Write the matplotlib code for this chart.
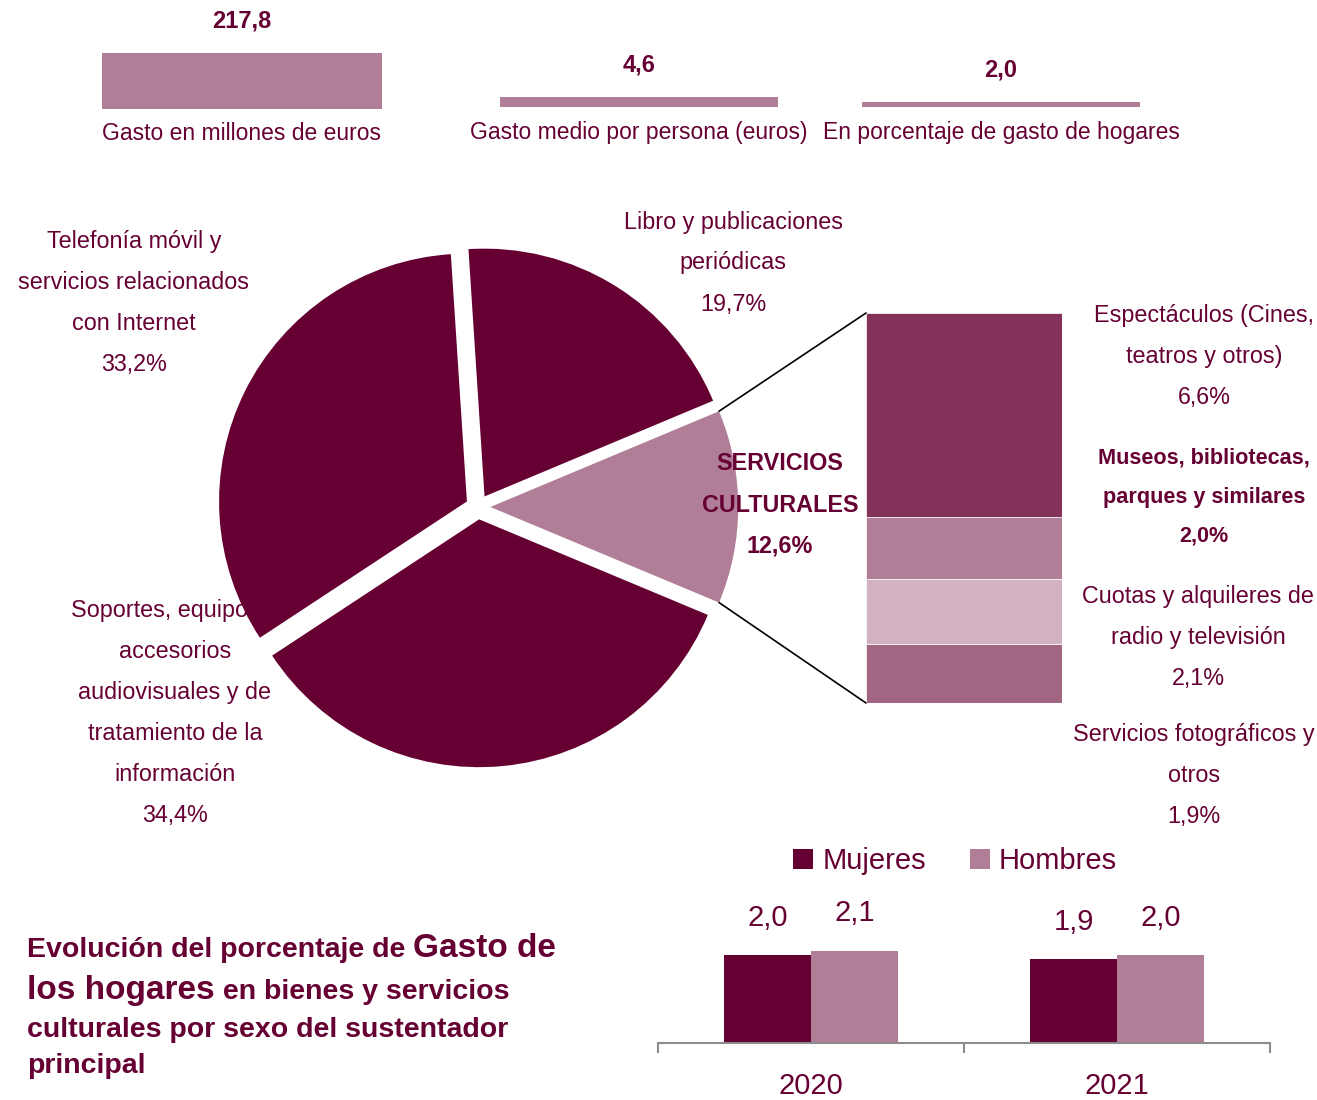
import matplotlib.pyplot as plt
from matplotlib.patches import ConnectionPatch
import numpy as np

plt.rcParams['font.family'] = ['Liberation Sans', 'DejaVu Sans']

W, H = 1317, 1100
dark = '#660033'
mauve = '#b07f97'

# indicadores de cabecera
ind_values = [217.8, 4.6, 2.0]
ind_labels = ['217,8', '4,6', '2,0']
ind_names = ['Gasto en millones de euros', 'Gasto medio por persona (euros)',
             'En porcentaje de gasto de hogares']

# reparto del gasto (tarta)
pie_names = ['SERVICIOS\nCULTURALES', 'Libro y publicaciones\nperiódicas',
             'Telefonía móvil y\nservicios relacionados\ncon Internet',
             'Soportes, equipos y\naccesorios\naudiovisuales y de\ntratamiento de la\ninformación']
pie_values = [12.6, 19.7, 33.2, 34.4]

# desglose de servicios culturales (de abajo arriba)
sub_names = ['Servicios fotográficos y\notros', 'Cuotas y alquileres de\nradio y televisión',
             'Museos, bibliotecas,\nparques y similares', 'Espectáculos (Cines,\nteatros y otros)']
sub_values = [1.9, 2.1, 2.0, 6.6]
sub_colors = ['#a26682', '#d2b1c0', mauve, '#85325a']

# evolución por sexo
years = ['2020', '2021']
mujeres = [2.0, 1.9]
hombres = [2.1, 2.0]


def px(l, t, w, h):
    return [l / W, 1 - (t + h) / H, w / W, h / H]


def fmt(v, pct=True):
    s = f'{v:.1f}'.replace('.', ',')
    return s + '%' if pct else s


def ftext(x, y, s, **kw):
    return fig.text(x / W, 1 - y / H, s, color=dark, **kw)


fig = plt.figure(figsize=(W / 100, H / 100), dpi=100)

# --- cabecera: tres barras con escala propia
ind_axes = [(102, 38, 280, 71), (500, 36, 278, 71), (862, 36, 278, 71)]
ind_tops = [276, 32, 28]
for i, v in enumerate(ind_values):
    ax = fig.add_axes(px(*ind_axes[i]))
    ax.bar(0, v, width=1, color=mauve)
    ax.set_xlim(-0.5, 0.5)
    ax.set_ylim(0, ind_tops[i])
    ax.axis('off')
    ax.annotate(ind_labels[i], (0, v), xytext=(0, 23), textcoords='offset points',
                ha='center', va='center', fontsize=17, fontweight='bold', color=dark)
    l, t, w, h = ind_axes[i]
    ftext(l + w / 2, t + h + 25, ind_names[i], ha='center', va='center', fontsize=16.5)

# --- tarta
ax_pie = fig.add_axes(px(193, 222, 570, 570))
wedges, _ = ax_pie.pie(pie_values, colors=[mauve, dark, dark, dark],
                       explode=[0.05] * 4, startangle=-pie_values[0] / 100 * 180,
                       counterclock=True)
ax_pie.set_xlim(-1.15, 1.15)
ax_pie.set_ylim(-1.15, 1.15)

pie_pos = [(780, 505), (733, 263), (134, 303), (175, 713)]
for i, (name, v) in enumerate(zip(pie_names, pie_values)):
    bold = 'bold' if i == 0 else 'normal'
    z = -1 if i == 3 else 3
    ftext(pie_pos[i][0], pie_pos[i][1], name + '\n' + fmt(v), ha='center', va='center',
          fontsize=16.8, fontweight=bold, linespacing=2.0, zorder=z)

# --- barra apilada del desglose
ax_st = fig.add_axes(px(866, 313, 196, 390))
bottom = 0
for v, c in zip(sub_values, sub_colors):
    ax_st.bar(0, v, bottom=bottom, width=1, color=c, edgecolor='white', linewidth=0.5)
    bottom += v
ax_st.set_xlim(-0.5, 0.5)
ax_st.set_ylim(0, sum(sub_values))
ax_st.axis('off')

sub_pos = [(1194, 775), (1198, 637.5), (1204, 497), (1204, 356.5)]
for i, (name, v) in enumerate(zip(sub_names, sub_values)):
    bold = 'bold' if i == 2 else 'normal'
    size = 15.6 if i == 2 else 16.8
    ftext(sub_pos[i][0], sub_pos[i][1], name + '\n' + fmt(v), ha='center', va='center',
          fontsize=size, fontweight=bold, linespacing=2.0 * 16.8 / size)

w0 = wedges[0]
cx, cy = w0.center
for theta, yb in [(w0.theta2, 1), (w0.theta1, 0)]:
    p = (cx + w0.r * np.cos(np.radians(theta)), cy + w0.r * np.sin(np.radians(theta)))
    con = ConnectionPatch(xyA=p, coordsA=ax_pie.transData, xyB=(0, yb),
                          coordsB=ax_st.transAxes, color='black', lw=1.2)
    fig.add_artist(con)

# --- barras por sexo
ax_b = fig.add_axes(px(658, 900, 612, 143))
x = np.arange(len(years))
bw = 0.284
b1 = ax_b.bar(x - bw / 2, mujeres, bw, color=dark, label='Mujeres')
b2 = ax_b.bar(x + bw / 2, hombres, bw, color=mauve, label='Hombres')
for bars, vals in [(b1, mujeres), (b2, hombres)]:
    for b, v in zip(bars, vals):
        ax_b.annotate(fmt(v, False), (b.get_x() + b.get_width() / 2, v), xytext=(0, 27),
                      textcoords='offset points', ha='center', va='center',
                      fontsize=21, color=dark)
ax_b.set_xlim(-0.5, 1.5)
ax_b.set_ylim(0, 3.25)
for s in ['top', 'right', 'left']:
    ax_b.spines[s].set_visible(False)
ax_b.spines['bottom'].set_color('#8c8c8c')
ax_b.spines['bottom'].set_linewidth(1.5)
ax_b.set_yticks([])
ax_b.set_xticks(x)
ax_b.set_xticklabels(years, fontsize=21, color=dark)
ax_b.tick_params(axis='x', which='major', length=0, pad=21)
ax_b.set_xticks([-0.5, 0.5, 1.5], minor=True)
ax_b.tick_params(axis='x', which='minor', length=7, width=1.5, color='#8c8c8c', direction='out')
ax_b.legend(loc='center', bbox_to_anchor=(955 / W, 1 - 861 / H), bbox_transform=fig.transFigure,
            ncol=2, frameon=False, fontsize=21, handlelength=0.7, handleheight=0.7,
            handletextpad=0.3, columnspacing=1.5, labelcolor=dark)

# --- título con tamaños mezclados
title_lines = [[('Evolución del porcentaje de ', 20.5), ('Gasto de', 24)],
               [('los hogares', 24), (' en bienes y servicios', 20.5)],
               [('culturales por sexo del sustentador', 20.5)],
               [('principal', 20.5)]]
baselines = [957, 999, 1037, 1073]
renderer = fig.canvas.get_renderer()
for parts, yb in zip(title_lines, baselines):
    xc = 27
    for s, size in parts:
        t = ftext(xc, yb, s, ha='left', va='baseline', fontsize=size, fontweight='bold')
        xc = t.get_window_extent(renderer).x1

fig.savefig('out.png', dpi=100)
